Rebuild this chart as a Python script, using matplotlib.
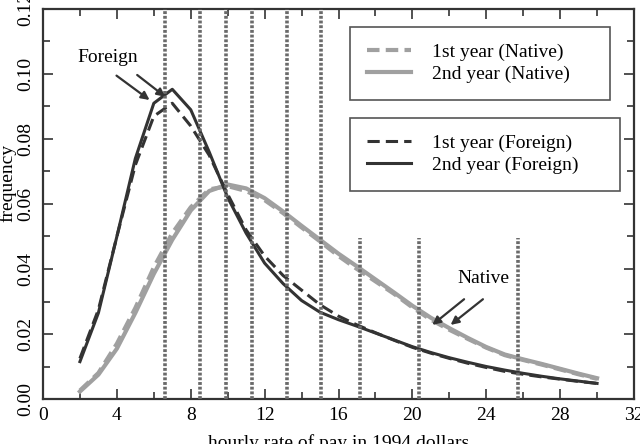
import matplotlib
matplotlib.use("Agg")
import matplotlib.pyplot as plt
import numpy as np

plt.rcParams['font.family'] = ['Liberation Serif', 'DejaVu Serif']
plt.rcParams['font.size'] = 14

wage = list(range(2, 31))

foreign_y2 = [0.0115, 0.0265, 0.050, 0.074, 0.091, 0.0953, 0.089, 0.076, 0.062, 0.051,
              0.0418, 0.0355, 0.0303, 0.0267, 0.0244, 0.0224, 0.0203, 0.0182, 0.0161, 0.0143,
              0.0127, 0.0113, 0.0100, 0.0089, 0.0079, 0.0070, 0.0062, 0.0055, 0.0048]
foreign_y1 = [0.0125, 0.0275, 0.050, 0.072, 0.087, 0.091, 0.084, 0.075, 0.063, 0.052,
              0.0440, 0.0380, 0.0335, 0.0290, 0.0255, 0.0228, 0.0204, 0.0181, 0.0159, 0.0141,
              0.0125, 0.0110, 0.0097, 0.0085, 0.0076, 0.0068, 0.0061, 0.0054, 0.0048]
native_y2 = [0.0023, 0.0075, 0.0155, 0.0265, 0.0385, 0.049, 0.058, 0.064, 0.066, 0.0648,
             0.0618, 0.0577, 0.0533, 0.0490, 0.0447, 0.0408, 0.0368, 0.0328, 0.0287, 0.0250,
             0.0218, 0.0188, 0.0160, 0.0137, 0.0122, 0.0108, 0.0093, 0.0078, 0.0064]
native_y1 = [0.0026, 0.0080, 0.0170, 0.0280, 0.0405, 0.051, 0.059, 0.0645, 0.0655, 0.0640,
             0.0612, 0.0572, 0.0528, 0.0485, 0.0440, 0.0400, 0.0362, 0.0324, 0.0282, 0.0244,
             0.0213, 0.0185, 0.0158, 0.0135, 0.0120, 0.0106, 0.0091, 0.0076, 0.0062]

vline_full = [6.62, 8.49, 9.89, 11.34, 13.2, 15.05]
vline_short = [17.16, 20.36, 25.7]
vline_short_top = 0.0495

dark = '#333333'
gray = '#a0a0a0'

fig = plt.figure(figsize=(6.4, 4.44), dpi=100)
ax = fig.add_axes([43/640, 1-399/444, (634-43)/640, (399-9)/444])

ax.plot(wage, native_y1, color=gray, lw=3.0, ls=(0, (3, 1.5)), label='1st year (Native)', zorder=2)
ax.plot(wage, native_y2, color=gray, lw=3.0, ls='-', label='2nd year (Native)', zorder=2)
ax.plot(wage, foreign_y1, color=dark, lw=2.2, ls=(0, (4, 2)), label='1st year (Foreign)', zorder=2)
ax.plot(wage, foreign_y2, color=dark, lw=2.2, ls='-', label='2nd year (Foreign)', zorder=2)

ax.vlines(vline_full, 0, 0.12, colors='#6a6a6a', lw=2.6, linestyles=(0, (0.8, 0.5)), zorder=3)
ax.vlines(vline_short, 0, vline_short_top, colors='#6a6a6a', lw=2.6, linestyles=(0, (0.8, 0.5)), zorder=3)

ax.set_xlim(0, 32)
ax.set_ylim(0, 0.12)
ax.set_xticks(np.arange(0, 33, 4))
ax.set_xticks(np.arange(0, 33, 2), minor=True)
ax.set_yticks(np.arange(0, 0.121, 0.02))
ax.set_yticks(np.arange(0, 0.121, 0.01), minor=True)
ax.set_yticklabels([f"{v:.2f}" for v in np.arange(0, 0.121, 0.02)], rotation=90, va='center')
ax.tick_params(which='both', direction='in', top=True, right=True, width=1.2, color='#333333')
ax.tick_params(which='major', length=7, pad=6)
ax.tick_params(which='minor', length=5)
for s in ax.spines.values():
    s.set_linewidth(1.6)
    s.set_color('#333333')

ax.set_xlabel('hourly rate of pay in 1994 dollars', labelpad=7)
ax.set_ylabel('frequency')
ax.yaxis.set_label_coords((16-43)/591, (399-183)/390)

# annotations
ax.text(3.5, 0.1052, 'Foreign', ha='center', va='center')
ap = dict(arrowstyle='-|>', color=dark, lw=1.6, mutation_scale=12, shrinkA=0, shrinkB=0)
ax.annotate('', xy=(5.77, 0.092), xytext=(3.98, 0.0995), arrowprops=ap)
ax.annotate('', xy=(6.62, 0.093), xytext=(5.10, 0.0997), arrowprops=ap)
ax.text(23.87, 0.0371, 'Native', ha='center', va='center')
ax.annotate('', xy=(21.08, 0.0228), xytext=(22.8, 0.0307), arrowprops=ap)
ax.annotate('', xy=(22.07, 0.0228), xytext=(23.82, 0.0307), arrowprops=ap)

h, l = ax.get_legend_handles_labels()
leg_kw = dict(loc='upper left', mode='expand', borderaxespad=0, fancybox=False,
              framealpha=1, edgecolor='#555555', handlelength=2.27, handletextpad=1.1,
              labelspacing=0.25, borderpad=0.85, fontsize=14)
leg1 = ax.legend(h[:2], l[:2], bbox_to_anchor=(350/640, 1-27/444, (610-350)/640, 0.001),
                 bbox_transform=fig.transFigure, **leg_kw)
leg1.get_frame().set_linewidth(1.2)
ax.add_artist(leg1)
leg2 = ax.legend(h[2:], l[2:], bbox_to_anchor=(350/640, 1-118/444, (620-350)/640, 0.001),
                 bbox_transform=fig.transFigure, **leg_kw)
leg2.get_frame().set_linewidth(1.2)

fig.savefig('out.png', dpi=100)
